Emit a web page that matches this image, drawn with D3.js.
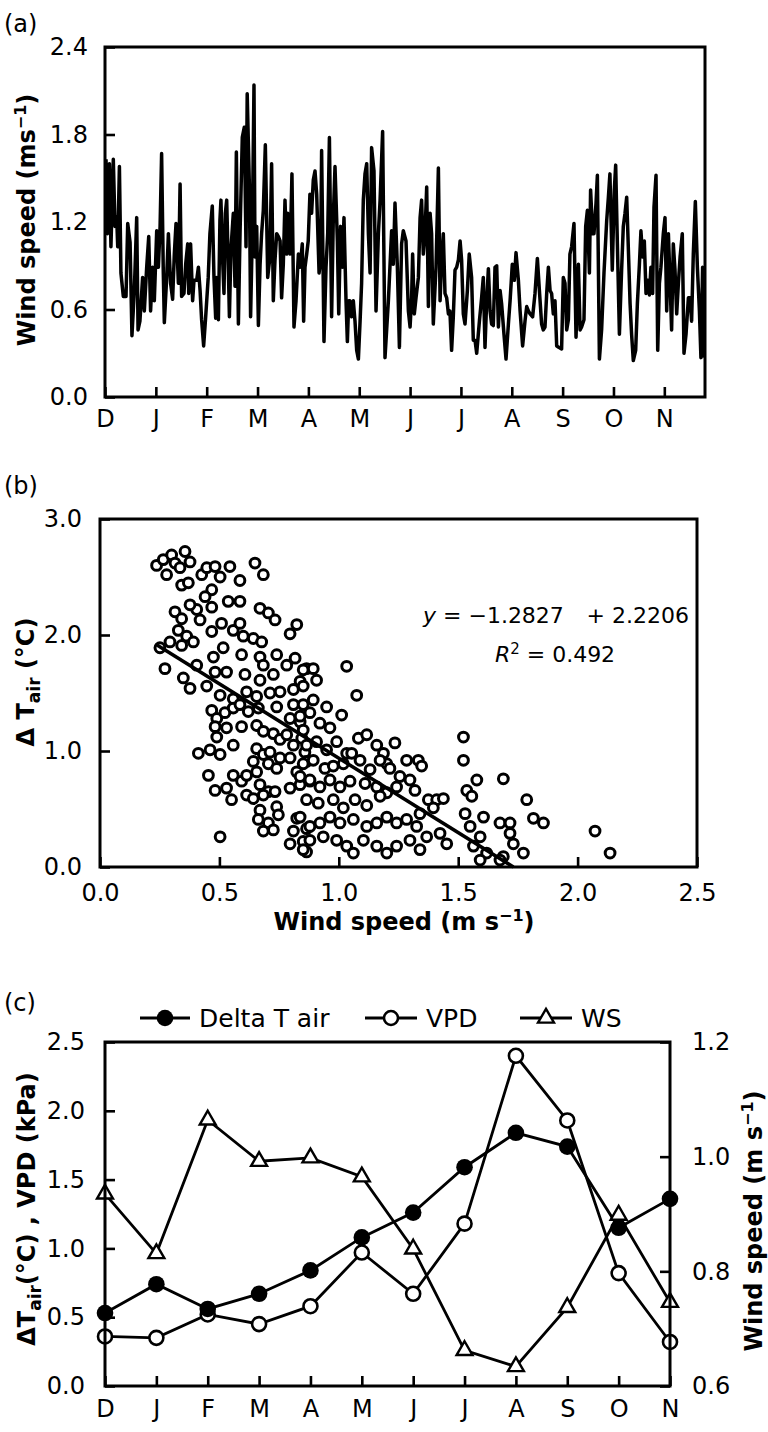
<!DOCTYPE html>
<html>
<head>
<meta charset="utf-8">
<script src="https://cdn.jsdelivr.net/npm/d3@7"></script>
<style>
body { margin: 0; background: #fff; }
svg text { font-family: "DejaVu Sans", sans-serif; fill: #000; }
</style>
</head>
<body>
<svg id="fig" width="768" height="1432"></svg>
<script>
const months = ['D','J','F','M','A','M','J','J','A','S','O','N'];

// (a) daily wind speed, [day from 1 Dec, m/s]
const windDaily = [
[0.6,1.63],[1.4,1.12],[2.6,1.60],[3.5,1.03],[4.9,1.63],[5.9,1.17],[6.9,1.23],[7.5,1.03],[8.5,1.58],[9.4,0.85],
[10.8,0.69],[12.4,0.69],[13.4,1.19],[14.8,1.06],[15.9,0.42],[17.3,0.73],[18.7,1.23],[19.5,0.46],[20.6,0.52],[22.2,0.82],
[23.2,0.59],[24.6,0.89],[25.8,1.10],[26.9,0.59],[28.1,0.89],[29.1,0.66],[30.5,1.14],[31.5,0.89],[32.5,1.17],[33.4,1.67],
[34.4,0.85],[35.0,0.51],[36.4,0.82],[37.4,1.12],[38.7,0.78],[39.9,0.67],[40.9,0.98],[41.9,1.19],[43.3,0.78],[44.3,1.46],
[45.2,0.69],[46.6,0.71],[47.6,0.91],[48.8,1.05],[49.4,0.71],[50.5,1.05],[51.7,0.66],[52.5,0.80],[54.1,0.80],[55.1,0.89],
[56.1,0.73],[57.0,0.53],[58.2,0.35],[59.4,0.55],[60.9,0.82],[61.9,1.12],[63.3,1.31],[64.3,0.82],[65.3,0.54],[65.9,0.82],
[66.9,0.53],[67.8,1.21],[68.4,1.35],[69.4,0.94],[70.2,0.71],[71.0,1.26],[71.8,1.35],[72.8,0.87],[73.4,0.55],[74.3,1.01],
[75.7,1.26],[76.7,0.76],[77.5,1.68],[78.7,0.50],[79.7,1.14],[81.0,1.78],[82.2,1.85],[83.2,1.03],[83.9,2.08],[85.2,1.44],
[85.9,0.55],[86.9,1.12],[87.9,2.14],[88.5,0.96],[89.5,1.17],[90.5,0.49],[91.5,0.91],[92.4,1.12],[93.4,1.28],[94.6,1.73],
[96.0,0.82],[97.3,0.96],[98.3,1.60],[99.3,0.66],[100.3,0.94],[101.3,1.12],[102.3,1.10],[103.3,1.07],[104.2,0.68],[105.2,0.91],
[106.2,1.35],[107.2,0.98],[107.8,1.26],[109.2,0.98],[110.3,1.53],[111.5,0.48],[112.7,0.66],[114.1,0.98],[115.1,0.89],[116.4,1.05],
[117.2,0.52],[118.0,0.89],[119.0,0.98],[119.9,1.07],[120.9,1.39],[121.9,1.26],[122.9,1.49],[123.9,1.55],[124.9,1.39],[126.3,0.85],
[127.2,0.94],[127.8,1.69],[129.2,0.38],[130.4,0.89],[131.4,1.12],[132.4,1.78],[133.7,0.55],[134.7,1.23],[135.7,1.58],[137.1,1.07],
[137.9,0.57],[139.0,1.17],[140.0,0.89],[141.0,1.23],[142.2,0.66],[143.0,0.38],[143.8,0.66],[144.5,0.66],[145.5,0.55],[146.5,0.66],
[147.5,0.52],[148.5,0.32],[149.5,0.26],[150.5,0.52],[151.4,0.78],[152.4,1.35],[153.4,1.53],[154.4,1.60],[155.4,1.12],[156.4,0.85],
[157.3,1.71],[158.7,1.55],[159.9,0.59],[161.3,1.12],[162.3,1.35],[163.8,1.82],[165.2,0.27],[167.2,0.66],[169.1,1.14],[170.1,0.91],
[171.1,1.33],[172.5,0.89],[173.7,0.34],[175.0,1.05],[176.0,1.14],[177.6,1.07],[179.0,0.59],[180.0,0.48],[180.9,0.68],[181.5,0.98],
[182.5,0.57],[183.5,0.68],[184.9,0.82],[185.9,1.23],[186.8,1.35],[187.8,0.98],[188.8,1.12],[189.8,1.44],[190.8,0.62],[191.8,1.26],
[192.7,1.12],[193.7,0.50],[195.3,0.89],[196.7,1.57],[197.7,0.66],[198.6,0.94],[199.6,1.12],[200.6,0.71],[201.6,0.68],[202.6,0.57],
[203.5,0.59],[204.5,0.32],[205.5,0.55],[206.5,0.87],[207.5,0.89],[208.5,0.94],[209.5,1.07],[210.4,0.94],[211.4,0.57],[212.4,0.50],
[213.8,0.73],[214.9,0.98],[216.3,0.82],[217.3,0.39],[218.3,0.39],[219.3,0.30],[220.9,0.52],[222.2,0.68],[223.2,0.82],[224.2,0.34],
[225.2,0.66],[226.2,0.88],[227.2,0.59],[228.1,0.50],[229.1,0.49],[230.1,0.89],[231.1,0.90],[232.1,0.48],[233.1,0.73],[234.0,0.64],
[235.4,0.43],[236.6,0.26],[238.0,0.50],[239.0,0.66],[240.3,0.91],[241.5,0.80],[242.5,0.99],[243.9,0.80],[244.9,0.59],[246.4,0.35],
[247.8,0.52],[248.8,0.62],[249.8,0.59],[250.8,0.57],[252.3,0.55],[253.7,0.71],[255.1,0.95],[256.3,0.73],[257.6,0.50],[258.6,0.46],
[259.6,0.48],[260.6,0.71],[261.6,0.89],[262.6,0.73],[263.5,0.71],[264.5,0.57],[265.5,0.66],[266.5,0.35],[267.9,0.34],[269.4,0.33],
[270.4,0.82],[271.4,0.78],[272.4,0.46],[273.4,0.53],[274.3,0.98],[275.3,1.03],[276.7,1.19],[277.9,0.41],[279.3,0.91],[280.3,0.46],
[281.2,0.48],[282.6,0.53],[283.6,1.17],[284.6,1.28],[285.8,0.85],[286.5,1.42],[287.7,1.12],[288.5,1.12],[289.7,1.33],[290.5,1.52],
[291.7,0.26],[293.0,0.46],[294.4,0.85],[296.0,1.21],[297.0,1.37],[297.9,1.53],[299.3,0.87],[300.5,1.42],[301.3,1.59],[302.3,1.05],
[303.5,0.43],[304.8,0.87],[305.8,1.17],[306.8,1.26],[307.8,1.37],[308.8,1.01],[309.8,0.64],[310.7,0.43],[311.7,0.25],[313.1,0.32],
[314.1,0.64],[315.3,0.91],[316.2,1.14],[317.2,0.96],[318.2,1.07],[319.2,0.71],[320.2,0.80],[321.2,0.70],[322.1,0.89],[323.1,0.71],
[323.9,1.30],[325.1,1.52],[326.1,0.32],[327.1,0.78],[328.0,0.89],[329.4,1.12],[330.4,1.23],[331.4,0.59],[332.4,1.12],[333.4,0.78],
[334.3,0.46],[335.3,1.05],[336.3,0.87],[337.3,0.57],[338.3,0.78],[339.3,0.96],[340.6,1.12],[341.6,0.30],[342.8,0.43],[344.2,0.68],
[345.2,0.68],[346.1,0.52],[347.1,0.98],[348.3,1.34],[349.5,0.89],[350.7,0.59],[351.6,0.27],[352.6,0.89],[353.4,0.27]
];
const monthDays = [0,30,60,90,120,150,180,210,240,270,300,330];
const yTicksA = [0, 0.6, 1.2, 1.8, 2.4];

// (b) daily [wind speed, delta T air]
const scatter = [
[0.237,2.60],[0.265,2.65],[0.300,2.69],[0.314,2.62],[0.356,2.72],[0.377,2.63],[0.279,2.52],[0.335,2.58],[0.342,2.43],[0.370,2.45],
[0.426,2.52],[0.447,2.58],[0.482,2.59],[0.503,2.50],[0.544,2.59],[0.586,2.47],[0.649,2.62],[0.684,2.52],[0.468,2.39],[0.440,2.33],
[0.468,2.24],[0.405,2.22],[0.377,2.26],[0.314,2.20],[0.342,2.14],[0.537,2.29],[0.586,2.29],[0.670,2.23],[0.705,2.19],[0.733,2.13],
[0.824,2.09],[0.796,2.01],[0.419,2.13],[0.328,2.04],[0.363,1.99],[0.293,1.94],[0.342,1.91],[0.391,1.94],[0.468,2.03],[0.509,2.10],
[0.558,2.04],[0.586,2.10],[0.600,1.99],[0.642,1.97],[0.677,1.94],[0.593,1.83],[0.516,1.89],[0.475,1.81],[0.251,1.89],[0.272,1.71],
[0.349,1.63],[0.377,1.54],[0.447,1.56],[0.405,1.74],[0.482,1.68],[0.530,1.68],[0.607,1.66],[0.670,1.81],[0.684,1.74],[0.740,1.83],
[0.670,1.61],[0.726,1.66],[0.782,1.74],[0.817,1.80],[0.838,1.60],[0.865,1.71],[0.810,1.53],[0.754,1.51],[0.503,1.48],[0.558,1.45],
[0.614,1.51],[0.656,1.47],[0.712,1.50],[0.468,1.35],[0.489,1.28],[0.523,1.33],[0.558,1.37],[0.586,1.40],[0.621,1.34],[0.663,1.37],
[0.740,1.38],[0.810,1.40],[0.851,1.40],[0.796,1.28],[0.838,1.25],[0.482,1.21],[0.530,1.20],[0.593,1.21],[0.656,1.22],[0.684,1.17],
[0.726,1.15],[0.754,1.10],[0.782,1.14],[0.810,1.05],[0.845,1.11],[0.858,0.99],[0.558,1.05],[0.489,1.12],[0.461,1.01],[0.412,0.98],
[0.503,0.97],[0.656,1.02],[0.684,0.97],[0.712,0.99],[0.754,0.94],[0.642,0.91],[0.705,0.89],[0.740,0.85],[0.796,0.94],[0.824,0.82],
[0.865,0.91],[0.454,0.79],[0.482,0.66],[0.530,0.68],[0.558,0.79],[0.593,0.74],[0.614,0.79],[0.656,0.82],[0.670,0.71],[0.705,0.65],
[0.733,0.65],[0.796,0.68],[0.838,0.71],[0.879,0.74],[0.551,0.58],[0.614,0.62],[0.642,0.59],[0.684,0.62],[0.670,0.49],[0.740,0.52],
[0.663,0.41],[0.705,0.38],[0.684,0.31],[0.726,0.32],[0.824,0.42],[0.865,0.33],[0.503,0.26],[0.796,0.20],[0.851,0.22],[0.865,0.13],
[0.810,0.31],[0.747,0.45],[0.851,1.70],[0.893,1.71],[0.907,1.61],[1.033,1.73],[1.075,1.48],[0.851,1.56],[0.893,1.44],[0.949,1.38],
[1.012,1.31],[0.838,1.30],[0.879,1.33],[0.921,1.24],[0.963,1.20],[0.851,1.18],[0.865,1.05],[0.907,1.08],[0.949,1.01],[0.991,1.08],
[1.033,0.98],[1.082,1.11],[1.117,1.14],[1.159,1.05],[1.187,0.98],[1.235,1.07],[1.201,0.89],[1.284,0.92],[1.333,0.92],[1.347,0.87],
[0.851,0.89],[0.893,0.92],[0.942,0.85],[0.977,0.87],[1.019,0.89],[1.054,0.98],[1.089,0.92],[1.131,0.84],[1.173,0.92],[1.214,0.85],
[1.256,0.78],[1.298,0.75],[1.319,0.66],[0.838,0.78],[0.879,0.75],[0.921,0.69],[0.963,0.75],[1.005,0.69],[1.047,0.74],[1.110,0.72],
[1.159,0.69],[1.201,0.64],[1.242,0.69],[0.865,0.58],[0.914,0.55],[0.977,0.58],[1.019,0.51],[1.068,0.58],[1.117,0.53],[1.173,0.61],
[1.375,0.58],[1.410,0.58],[1.438,0.59],[1.340,0.46],[1.396,0.51],[0.838,0.43],[0.879,0.35],[0.921,0.38],[0.963,0.43],[1.005,0.38],
[1.061,0.41],[1.117,0.35],[1.159,0.38],[1.201,0.43],[1.242,0.38],[1.284,0.41],[1.326,0.35],[1.368,0.26],[1.424,0.29],[1.452,0.20],
[0.851,0.15],[0.879,0.23],[0.935,0.26],[0.991,0.23],[1.033,0.18],[1.061,0.12],[1.103,0.23],[1.159,0.18],[1.201,0.12],[1.242,0.18],
[1.298,0.23],[1.340,0.15],[1.522,1.12],[1.522,0.92],[1.578,0.75],[1.536,0.66],[1.557,0.61],[1.529,0.46],[1.606,0.43],[1.550,0.35],
[1.592,0.26],[1.564,0.18],[1.675,0.38],[1.717,0.38],[1.717,0.29],[1.731,0.20],[1.689,0.76],[1.787,0.58],[1.815,0.42],[1.857,0.38],
[1.773,0.12],[1.619,0.12],[1.592,0.06],[1.689,0.09],[1.675,0.06],[2.073,0.31],[2.136,0.12]
];
const fitSlope = -1.2827, fitIntercept = 2.2206, fitR2 = 0.492;
const xTicksB = [0, 0.5, 1.0, 1.5, 2.0, 2.5];
const yTicksB = [0, 1, 2, 3];

// (c) monthly means Dec..Nov
const deltaTair = [0.53, 0.74, 0.56, 0.67, 0.84, 1.08, 1.26, 1.59, 1.84, 1.74, 1.15, 1.36];
const vpd = [0.36, 0.35, 0.52, 0.45, 0.58, 0.97, 0.67, 1.18, 2.40, 1.93, 0.82, 0.32];
const wsMonthly = [0.935, 0.831, 1.064, 0.992, 0.998, 0.965, 0.839, 0.662, 0.634, 0.737, 0.898, 0.746];
const yTicksCL = [0, 0.5, 1.0, 1.5, 2.0, 2.5];
const yTicksCR = [0.6, 0.8, 1.0, 1.2];

const svg = d3.select('#fig');
const fmt1 = d3.format('.1f');
const minus = s => s.replace('-', '\u2212');

function dress(g, fs) {
    g.attr('font-size', fs).attr('font-family', '"DejaVu Sans", sans-serif');
    g.select('.domain').remove();
    g.selectAll('.tick line').attr('stroke-width', 2.6);
}

function frame(x0, x1, y0, y1) {
    svg.append('rect')
        .attr('x', x0).attr('y', y0)
        .attr('width', x1 - x0).attr('height', y1 - y0)
        .attr('fill', 'none').attr('stroke', '#000').attr('stroke-width', 3);
}

// rotated bold title with optional sub/superscript pieces
function vTitle(x, y, parts, fs) {
    const t = svg.append('text')
        .attr('transform', `translate(${x},${y}) rotate(-90)`)
        .attr('text-anchor', 'middle')
        .attr('font-size', fs).attr('font-weight', 'bold');
    parts.forEach(p => {
        const s = t.append('tspan').text(p.t);
        if (p.dy) s.attr('dy', p.dy);
        if (p.fs) s.attr('font-size', p.fs);
    });
    return t;
}

// ---------- (a) ----------
const xA = d3.scaleLinear().domain([0, 354]).range([105, 705]);
const yA = d3.scaleLinear().domain([0, 2.4]).range([397, 47]);

svg.append('clipPath').attr('id', 'clipA').append('rect')
    .attr('x', 105).attr('y', 47).attr('width', 600).attr('height', 350);

svg.append('path')
    .datum(windDaily)
    .attr('clip-path', 'url(#clipA)')
    .attr('fill', 'none').attr('stroke', '#000')
    .attr('stroke-width', 3.5).attr('stroke-linejoin', 'round')
    .attr('d', d3.line().x(d => xA(d[0])).y(d => yA(d[1])));

svg.append('g').attr('transform', 'translate(105,0)')
    .call(d3.axisLeft(yA).tickValues(yTicksA).tickFormat(fmt1)
        .tickSizeInner(-10).tickSizeOuter(0).tickPadding(17))
    .call(g => dress(g, 24));

svg.append('g').attr('transform', 'translate(0,397)')
    .call(d3.axisBottom(xA).tickValues(monthDays).tickFormat((d, i) => months[i])
        .tickSizeInner(-10).tickSizeOuter(0).tickPadding(13))
    .call(g => dress(g, 24));

frame(105, 705, 47, 397);

svg.append('text').attr('x', 4).attr('y', 32).attr('font-size', 24).text('(a)');
vTitle(35, 220, [{t: 'Wind speed (ms'}, {t: '\u22121', dy: -9, fs: 16}, {t: ')', dy: 9, fs: 24}], 24);

// ---------- (b) ----------
const xB = d3.scaleLinear().domain([0, 2.5]).range([100, 697]);
const yB = d3.scaleLinear().domain([0, 3]).range([867, 519]);

svg.append('clipPath').attr('id', 'clipB').append('rect')
    .attr('x', 100).attr('y', 519).attr('width', 597).attr('height', 348);

svg.append('g').attr('clip-path', 'url(#clipB)')
    .selectAll('circle').data(scatter).join('circle')
    .attr('cx', d => xB(d[0])).attr('cy', d => yB(d[1]))
    .attr('r', 4.9)
    .attr('fill', '#fff').attr('stroke', '#000').attr('stroke-width', 3);

const fitX = [d3.min(scatter, d => d[0]), -fitIntercept / fitSlope];
svg.append('path')
    .datum(fitX)
    .attr('fill', 'none').attr('stroke', '#000').attr('stroke-width', 3.5)
    .attr('d', d3.line().x(d => xB(d)).y(d => yB(fitSlope * d + fitIntercept)));

svg.append('g').attr('transform', 'translate(100,0)')
    .call(d3.axisLeft(yB).tickValues(yTicksB).tickFormat(fmt1)
        .tickSizeInner(-10).tickSizeOuter(0).tickPadding(18))
    .call(g => dress(g, 24));

svg.append('g').attr('transform', 'translate(0,867)')
    .call(d3.axisBottom(xB).tickValues(xTicksB).tickFormat(fmt1)
        .tickSizeInner(-10).tickSizeOuter(0).tickPadding(17))
    .call(g => dress(g, 24));

frame(100, 697, 519, 867);

svg.append('text').attr('x', 4).attr('y', 494).attr('font-size', 24).text('(b)');
vTitle(34, 682, [{t: '\u0394 T'}, {t: 'air', dy: 6, fs: 17}, {t: ' (\u00b0C)', dy: -6, fs: 24}], 24);

const xt = svg.append('text').attr('x', 404).attr('y', 930)
    .attr('text-anchor', 'middle').attr('font-size', 24).attr('font-weight', 'bold');
xt.append('tspan').text('Wind speed (m s');
xt.append('tspan').attr('dy', -9).attr('font-size', 16).text('\u22121');
xt.append('tspan').attr('dy', 9).text(')');

const eq = svg.append('text').attr('x', 423).attr('y', 623).attr('font-size', 22);
eq.append('tspan').attr('font-style', 'italic').text('y');
eq.append('tspan').text(' = ' + minus(String(fitSlope)));
svg.append('text').attr('x', 689).attr('y', 623).attr('font-size', 22)
    .attr('text-anchor', 'end').text('+ ' + fitIntercept.toFixed(4));
const r2 = svg.append('text').attr('x', 555).attr('y', 662).attr('font-size', 22)
    .attr('text-anchor', 'middle');
r2.append('tspan').attr('font-style', 'italic').text('R');
r2.append('tspan').attr('dy', -8).attr('font-size', 15).text('2');
r2.append('tspan').attr('dy', 8).text(' = ' + fitR2.toFixed(3));

// ---------- (c) ----------
const cTop = 1042, cBottom = 1386;
const xC = d3.scaleLinear().domain([0, 11]).range([105, 670]);
const yCL = d3.scaleLinear().domain([0, 2.5]).range([cBottom, cTop]);
const yCR = d3.scaleLinear().domain([0.6, 1.2]).range([cBottom, cTop]);

const lineL = d3.line().x((d, i) => xC(i)).y(d => yCL(d));
const lineR = d3.line().x((d, i) => xC(i)).y(d => yCR(d));

[[deltaTair, lineL], [vpd, lineL], [wsMonthly, lineR]].forEach(([arr, ln]) => {
    svg.append('path').datum(arr)
        .attr('fill', 'none').attr('stroke', '#000').attr('stroke-width', 2.8)
        .attr('d', ln);
});

const tri = d3.symbol().type(d3.symbolTriangle).size(110);

svg.append('g').selectAll('path').data(wsMonthly).join('path')
    .attr('transform', (d, i) => `translate(${xC(i)},${yCR(d)})`)
    .attr('d', tri)
    .attr('fill', '#fff').attr('stroke', '#000').attr('stroke-width', 2.4);

svg.append('g').selectAll('circle').data(vpd).join('circle')
    .attr('cx', (d, i) => xC(i)).attr('cy', d => yCL(d)).attr('r', 7)
    .attr('fill', '#fff').attr('stroke', '#000').attr('stroke-width', 2.6);

svg.append('g').selectAll('circle').data(deltaTair).join('circle')
    .attr('cx', (d, i) => xC(i)).attr('cy', d => yCL(d)).attr('r', 8.3)
    .attr('fill', '#000');

svg.append('g').attr('transform', 'translate(105,0)')
    .call(d3.axisLeft(yCL).tickValues(yTicksCL).tickFormat(fmt1)
        .tickSizeInner(-10).tickSizeOuter(0).tickPadding(20))
    .call(g => dress(g, 24));

svg.append('g').attr('transform', 'translate(670,0)')
    .call(d3.axisRight(yCR).tickValues(yTicksCR).tickFormat(fmt1)
        .tickSizeInner(-10).tickSizeOuter(0).tickPadding(22))
    .call(g => dress(g, 24));

svg.append('g').attr('transform', `translate(0,${cBottom})`)
    .call(d3.axisBottom(xC).tickValues(d3.range(12)).tickFormat(i => months[i])
        .tickSizeInner(-10).tickSizeOuter(0).tickPadding(14))
    .call(g => dress(g, 24));

frame(105, 670, cTop, cBottom);

svg.append('text').attr('x', 4).attr('y', 1011).attr('font-size', 24).text('(c)');
vTitle(35, 1209, [{t: '\u0394T'}, {t: 'air', dy: 6, fs: 17}, {t: '(\u00b0C) , VPD (kPa)', dy: -6, fs: 24}], 24);
vTitle(762, 1221, [{t: 'Wind speed (m s'}, {t: '\u22121', dy: -9, fs: 16}, {t: ')', dy: 9, fs: 24}], 24);

// legend
const legendItems = [
    {label: 'Delta T air', x0: 140, x1: 190, kind: 'filled'},
    {label: 'VPD', x0: 365, x1: 417, kind: 'open'},
    {label: 'WS', x0: 520, x1: 572, kind: 'tri'}
];
const ly = 1018;
legendItems.forEach(it => {
    const cx = (it.x0 + it.x1) / 2;
    svg.append('line').attr('x1', it.x0).attr('x2', it.x1).attr('y1', ly).attr('y2', ly)
        .attr('stroke', '#000').attr('stroke-width', 2.8);
    if (it.kind === 'filled') {
        svg.append('circle').attr('cx', cx).attr('cy', ly).attr('r', 8.3).attr('fill', '#000');
    } else if (it.kind === 'open') {
        svg.append('circle').attr('cx', cx).attr('cy', ly).attr('r', 7)
            .attr('fill', '#fff').attr('stroke', '#000').attr('stroke-width', 2.6);
    } else {
        svg.append('path').attr('transform', `translate(${cx},${ly})`).attr('d', tri)
            .attr('fill', '#fff').attr('stroke', '#000').attr('stroke-width', 2.4);
    }
    svg.append('text').attr('x', it.x1 + 9).attr('y', ly + 9).attr('font-size', 25).text(it.label);
});
</script>
</body>
</html>
